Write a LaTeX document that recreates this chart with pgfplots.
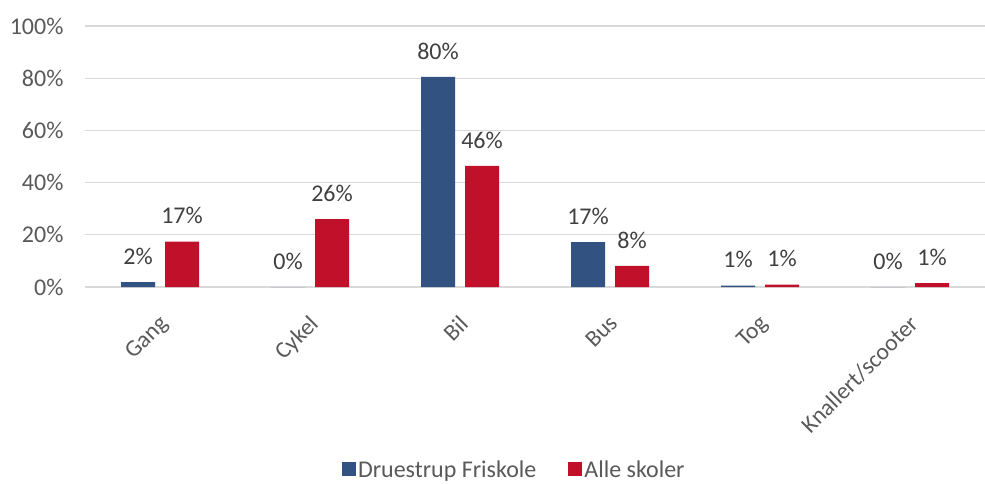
\documentclass[border=0pt]{standalone}
\usepackage{fontspec}
\setmainfont{Carlito}
\usepackage{pgfplots}
\pgfplotsset{compat=1.18}
\definecolor{cblue}{RGB}{50,83,130}
\definecolor{cred}{RGB}{192,16,42}
\definecolor{cgrid}{RGB}{217,217,217}
\definecolor{ctext}{RGB}{89,89,89}
\definecolor{clabel}{RGB}{64,64,64}
\begin{document}
\begin{tikzpicture}
\useasboundingbox (0,0) rectangle (985pt,483pt);
\begin{axis}[
  at={(85pt,196pt)}, anchor=south west,
  scale only axis, width=900pt, height=261pt,
  ybar=10pt, bar width=34pt,
  xmin=-0.5, xmax=5.5, ymin=0, ymax=100,
  clip=false,
  xtick={0,...,5},
  xticklabels={Gang,Cykel,Bil,Bus,Tog,Knallert/scooter},
  ytick={0,20,40,60,80,100},
  yticklabels={0\%,20\%,40\%,60\%,80\%,100\%},
  ymajorgrids, grid style={cgrid, line width=1.2pt},
  axis line style={draw=none},
  major tick length=0pt,
  tick style={draw=none},
  xticklabel style={rotate=45, anchor=north east, font=\fontsize{23.5}{27}\selectfont, text=ctext, xshift=-17pt, yshift=-14pt},
  yticklabel style={anchor=east, font=\fontsize{24}{28}\selectfont, text=ctext, xshift=-18pt},
  point meta=explicit symbolic,
  nodes near coords,
  every node near coord/.append style={font=\fontsize{24}{28}\selectfont, text=clabel, yshift=14pt},
  legend columns=2,
  legend style={draw=none, at={(0.477,-0.70)}, anchor=center, font=\fontsize{24}{28}\selectfont, text=ctext,
    /tikz/every even column/.append style={column sep=30pt}},
  legend cell align=left,
  legend image code/.code={\fill[#1] (0pt,-6pt) rectangle (14pt,8pt);},
]
\addplot[fill=cblue, draw=none] coordinates {(0,1.9) [2\%] (1,0) [0\%] (2,80.5) [80\%] (3,17.2) [17\%] (4,0.5) [1\%] (5,0) [0\%]};
\addplot[fill=cred, draw=none] coordinates {(0,17.4) [17\%] (1,26) [26\%] (2,46.4) [46\%] (3,8.1) [8\%] (4,0.9) [1\%] (5,1.5) [1\%]};
\legend{Druestrup Friskole, Alle skoler}
\end{axis}
\end{tikzpicture}
\end{document}
